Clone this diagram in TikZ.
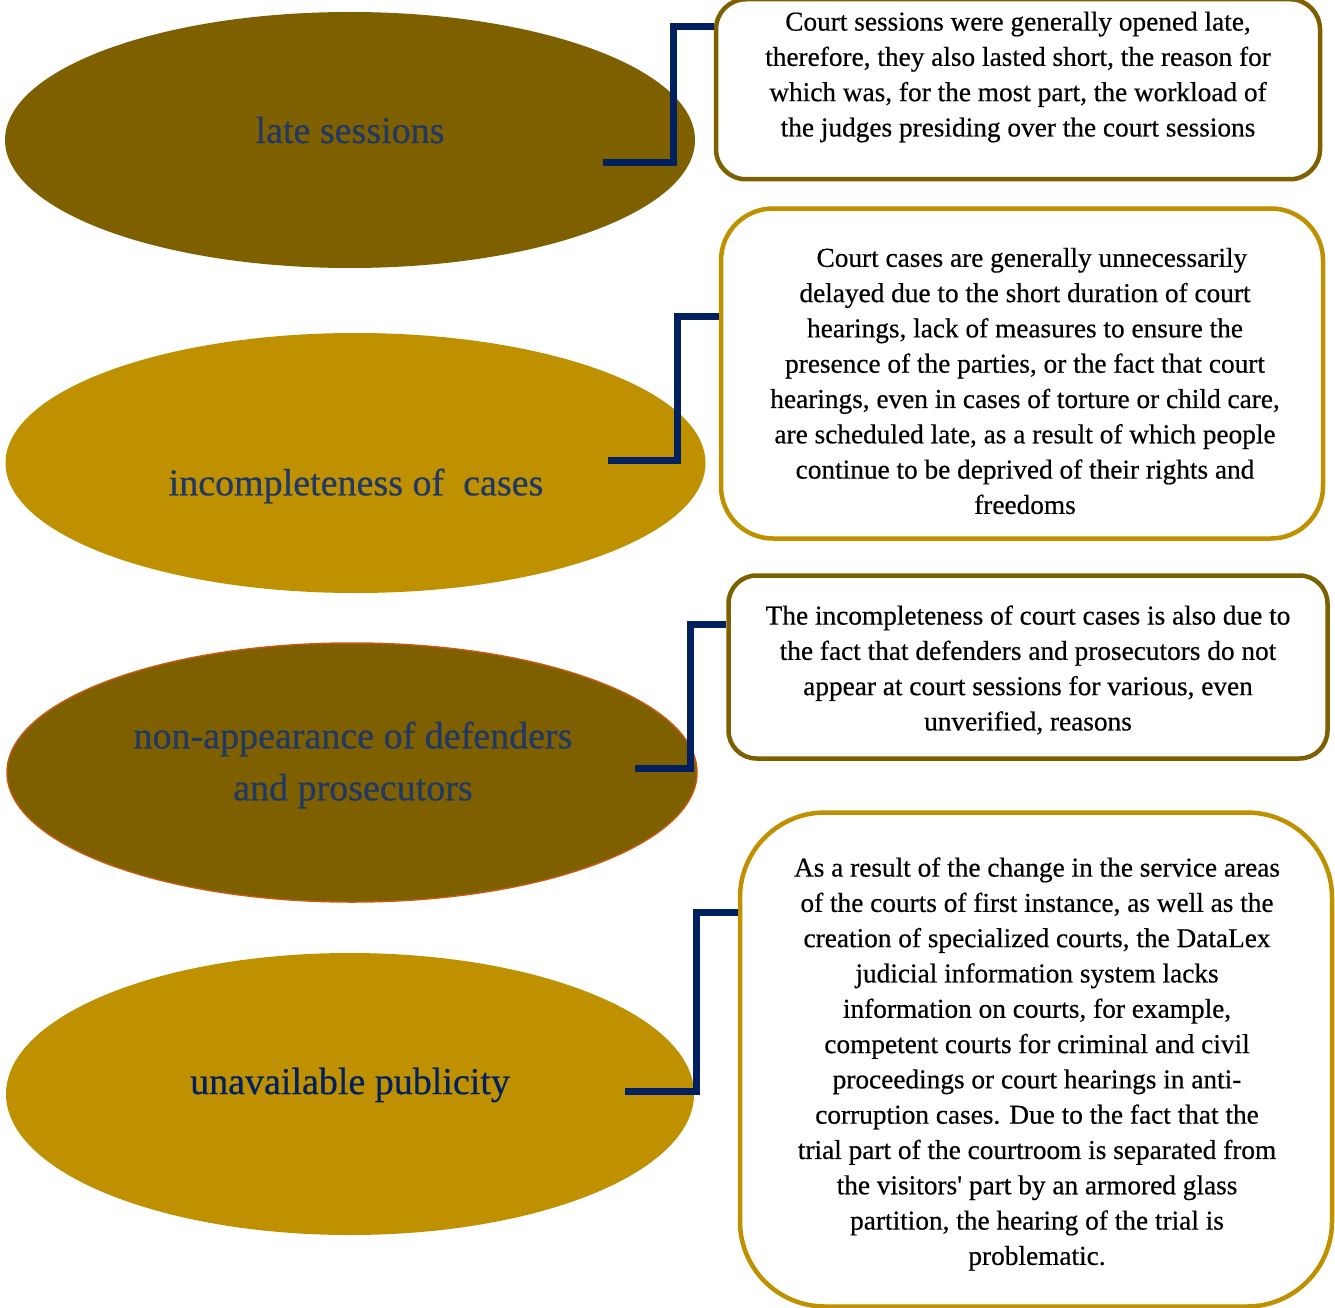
\documentclass[tikz,border=0pt]{standalone}
\usepackage{fontspec}
\setmainfont{Liberation Serif}
\usetikzlibrary{shapes.geometric}

\definecolor{cDark}{HTML}{7F6000}
\definecolor{cGold}{HTML}{BF9000}
\definecolor{cRim}{HTML}{C55A11}
\definecolor{cLine}{HTML}{002060}
\definecolor{cLabel}{HTML}{1F3864}

\begin{document}
\begin{tikzpicture}[x=1pt,y=-1pt,
  blob/.style={ellipse, inner sep=0pt, fill=#1},
  headtext/.style={align=center, inner sep=0pt, text=cLabel,
    font=\fontsize{38}{52}\selectfont\addfontfeature{FakeBold=0.5}},
  notebox/.style={draw=#1, line width=4.5pt, fill=white, inner sep=0pt},
  notetext/.style={align=center, inner sep=0pt, text=black,
    font=\fontsize{27.3}{35.3}\selectfont\addfontfeature{FakeBold=0.5}},
  link/.style={draw=cLine, line width=7pt, line join=miter}]

\useasboundingbox (0,0) rectangle (1335,1308);

% left-hand ellipses
\node[blob=cDark, minimum width=690pt, minimum height=256pt] (e1) at (350,140) {};
\node[blob=cGold, minimum width=700pt, minimum height=260pt] (e2) at (355.5,463) {};
\node[blob=cDark, draw=cRim, line width=1.5pt, minimum width=690pt, minimum height=259pt] (e3) at (352,772.5) {};
\node[blob=cGold, minimum width=688pt, minimum height=282pt] (e4) at (350,1094) {};

\node[headtext] (t1) at (350,130) {late sessions};
\node[headtext] (t2) at (356,486) {incompleteness of\ \ cases};
\node[headtext] (t3) at (353,765) {non-appearance of defenders\\and prosecutors};
\node[headtext, text=cLine] (t4) at (350,1085) {unavailable publicity};

% right-hand explanation boxes
\node[notebox=cDark, rounded corners=30pt, minimum width=604pt, minimum height=180pt] (b1) at (1018,-3) [anchor=north] {};
\node[notebox=cGold, rounded corners=52pt, minimum width=602pt, minimum height=330pt] (b2) at (1022,373.5) {};
\node[notebox=cDark, rounded corners=28pt, minimum width=599pt, minimum height=183pt] (b3) at (1028,667) {};
\node[notebox=cGold, rounded corners=85pt, minimum width=592pt, minimum height=494pt] (b4) at (1036,1059.5) {};

\node[notetext] (n1) at (1018,77) {Court sessions were generally opened late,\\
therefore, they also lasted short, the reason for\\
which was, for the most part, the workload of\\
the judges presiding over the court sessions};

\node[notetext] (n2) at (1025,381) {\ \ Court cases are generally unnecessarily\\
delayed due to the short duration of court\\
hearings, lack of measures to ensure the\\
presence of the parties, or the fact that court\\
hearings, even in cases of torture or child care,\\
are scheduled late, as a result of which people\\
continue to be deprived of their rights and\\
freedoms};

\node[notetext] (n3) at (1028,670) {The incompleteness of court cases is also due to\\
the fact that defenders and prosecutors do not\\
appear at court sessions for various, even\\
unverified, reasons};

\node[notetext] (n4) at (1037,1064) {As a result of the change in the service areas\\
of the courts of first instance, as well as the\\
creation of specialized courts, the DataLex\\
judicial information system lacks\\
information on courts, for example,\\
competent courts for criminal and civil\\
proceedings or court hearings in anti-\\
corruption cases. Due to the fact that the\\
trial part of the courtroom is separated from\\
the visitors\textquotesingle\ part by an armored glass\\
partition, the hearing of the trial is\\
problematic.};

% elbow connectors from each ellipse to its box
\coordinate (s1) at (603,163);  \coordinate (k1) at (673,27);
\coordinate (s2) at (608,460);  \coordinate (k2) at (677,316);
\coordinate (s3) at (635,768);  \coordinate (k3) at (690,624);
\coordinate (s4) at (625,1091); \coordinate (k4) at (696,912);

\draw[link] (s1) -| (k1) -- (k1 -| b1.west);
\draw[link] (s2) -| (k2) -- (k2 -| b2.west);
\draw[link] (s3) -| (k3) -- (k3 -| b3.west);
\draw[link] (s4) -| (k4) -- (k4 -| b4.west);
\end{tikzpicture}
\end{document}
